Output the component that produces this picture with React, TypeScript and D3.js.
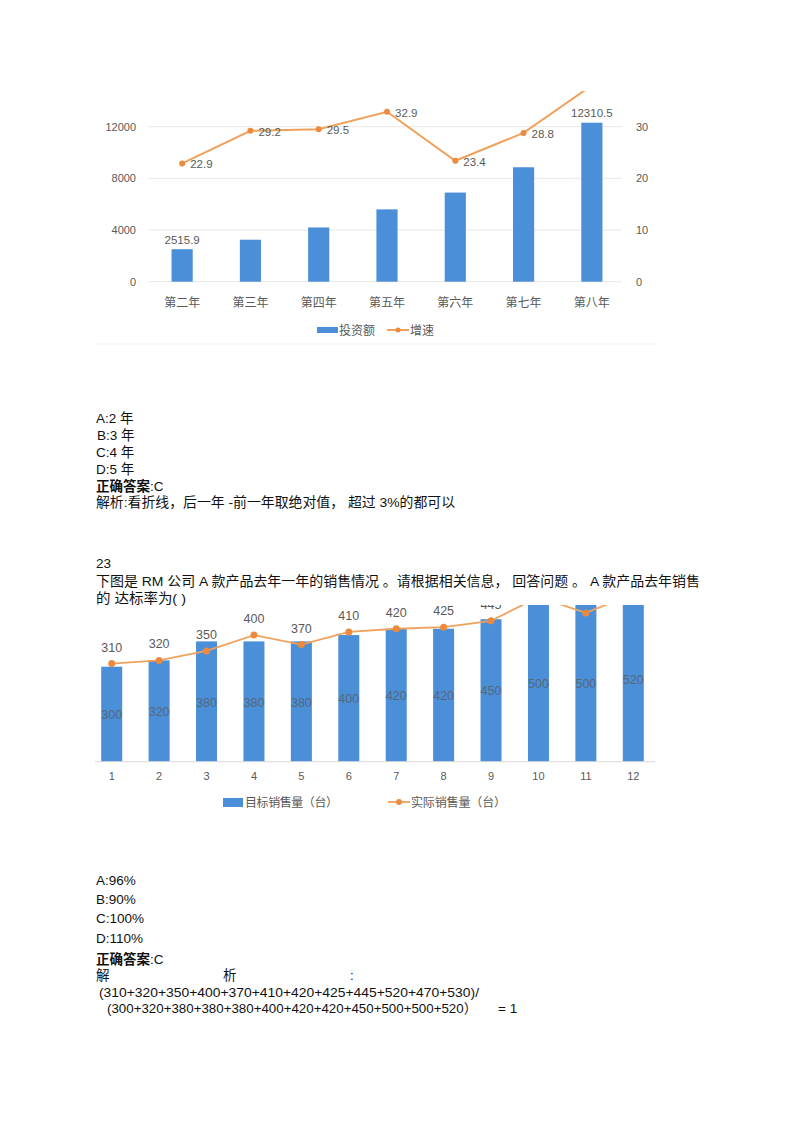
import * as React from "react";
import * as d3 from "d3";

// chart 1: investment and growth
const years = ["第二年", "第三年", "第四年", "第五年", "第六年", "第七年", "第八年"];
const investment = [2515.9, 3250, 4200, 5600, 6900, 8860, 12310.5];
const growth = [22.9, 29.2, 29.5, 32.9, 23.4, 28.8, 38];
const leftTicks = [0, 4000, 8000, 12000];
const rightTicks = [0, 10, 20, 30];

// chart 2: monthly sales
const months = ["1", "2", "3", "4", "5", "6", "7", "8", "9", "10", "11", "12"];
const target = [300, 320, 380, 380, 380, 400, 420, 420, 450, 500, 500, 520];
const actual = [310, 320, 350, 400, 370, 410, 420, 425, 445, 520, 470, 530];

const BLUE = "#4a8fd7";
const ORANGE = "#f0a25c";
const DOT = "#ec8a40";
const GRAY = "#595959";
const TXT = "'Liberation Sans', Arial, 'Noto Sans CJK SC', sans-serif";
const CJK = "'Noto Sans CJK SC', 'Liberation Sans', sans-serif";

const InvestChart = () => {
  const x = d3.scaleBand<string>().domain(years).range([148, 626]).paddingInner(0.69).paddingOuter(0.345);
  const yL = d3.scaleLinear().domain([0, 12000]).range([281.7, 126.7]);
  const yR = d3.scaleLinear().domain([0, 30]).range([281.7, 126.7]);
  const cx = (d: string) => (x(d) as number) + x.bandwidth() / 2;
  const line = d3.line<number>().x((_, i) => cx(years[i])).y(d => yR(d));
  // the picture is cut at the top: labels above the cut are not drawn
  const shown = growth.map((g, i) => i).filter(i => yR(growth[i]) > 100);
  return <g>
    <defs>
      <clipPath id="clip1"><rect x={90} y={91} width={575} height={260} /></clipPath>
    </defs>
    <g clipPath="url(#clip1)">
      {leftTicks.map(t => <line key={t} x1={148} x2={622} y1={yL(t)} y2={yL(t)} stroke="#e8e8e8" strokeWidth={1} />)}
      {investment.map((v, i) => <rect key={i} x={x(years[i])} y={yL(v)} width={x.bandwidth()} height={yL(0) - yL(v)} fill={BLUE} />)}
      <path d={line(growth) || ""} fill="none" stroke={ORANGE} strokeWidth={2} />
      {shown.map(i => <circle key={i} cx={cx(years[i])} cy={yR(growth[i])} r={3} fill={DOT} />)}
      {shown.map(i => <text key={i} x={cx(years[i]) + 8} y={yR(growth[i]) + 5} fontSize={11.5} fill={GRAY} fontFamily={TXT}>{growth[i]}</text>)}
      {[0, investment.length - 1].map(i => <text key={i} x={cx(years[i])} y={yL(investment[i]) - 5.5} textAnchor="middle" fontSize={11.5} fill={GRAY} fontFamily={TXT}>{investment[i]}</text>)}
    </g>
    {leftTicks.map(t => <text key={t} x={136} y={yL(t) + 4} textAnchor="end" fontSize={11} fill={GRAY} fontFamily={TXT}>{t}</text>)}
    {rightTicks.map(t => <text key={t} x={636} y={yR(t) + 4} fontSize={11} fill={GRAY} fontFamily={TXT}>{t}</text>)}
    {years.map(d => <text key={d} x={cx(d)} y={306.5} textAnchor="middle" fontSize={12} fill={GRAY} fontFamily={CJK}>{d}</text>)}
    <rect x={317} y={327} width={21} height={6} fill={BLUE} />
    <text x={339} y={334.5} fontSize={12} fill={GRAY} fontFamily={CJK}>投资额</text>
    <line x1={387} x2={409} y1={330} y2={330} stroke={ORANGE} strokeWidth={2} />
    <circle cx={398} cy={330} r={2.5} fill={DOT} />
    <text x={410} y={334.5} fontSize={12} fill={GRAY} fontFamily={CJK}>增速</text>
    <line x1={95} x2={658} y1={344} y2={344} stroke="#f2f2f2" strokeWidth={1} />
  </g>;
};

const SalesChart = () => {
  const x = d3.scaleBand<string>().domain(months).range([88, 657]).paddingInner(0.557).paddingOuter(0.2785);
  const y = d3.scaleLinear().domain([0, 500]).range([761.7, 603.4]);
  const cx = (d: string) => (x(d) as number) + x.bandwidth() / 2;
  const line = d3.line<number>().x((_, i) => cx(months[i])).y(d => y(d));
  // labels that fall above the cut edge of the picture are left out
  const shown = actual.map((v, i) => i).filter(i => y(actual[i]) - 12 > 602);
  return <g>
    <defs>
      <clipPath id="clip2"><rect x={88} y={605} width={575} height={225} /></clipPath>
    </defs>
    <g clipPath="url(#clip2)">
      {target.map((v, i) => <rect key={i} x={x(months[i])} y={y(v)} width={x.bandwidth()} height={y(0) - y(v)} fill={BLUE} />)}
      {target.map((v, i) => <text key={i} x={cx(months[i])} y={(y(v) + y(0)) / 2 + 5} textAnchor="middle" fontSize={12.5} fill="#56677c" fontFamily={TXT}>{v}</text>)}
      <path d={line(actual) || ""} fill="none" stroke={ORANGE} strokeWidth={1.8} />
      {actual.map((v, i) => <circle key={i} cx={cx(months[i])} cy={y(v)} r={3.5} fill={DOT} />)}
      {shown.map(i => <text key={i} x={cx(months[i])} y={y(actual[i]) - 12} textAnchor="middle" fontSize={12.5} fill={GRAY} fontFamily={TXT}>{actual[i]}</text>)}
    </g>
    <line x1={95} x2={655} y1={y(0)} y2={y(0)} stroke="#d9d9d9" strokeWidth={1} />
    {months.map(d => <text key={d} x={cx(d)} y={780} textAnchor="middle" fontSize={11} fill={GRAY} fontFamily={TXT}>{d}</text>)}
    <rect x={223} y={798} width={20} height={9} fill={BLUE} />
    <text x={245} y={806.5} fontSize={12} fill={GRAY} fontFamily={CJK} textLength={93}>目标销售量（台）</text>
    <line x1={388} x2={410} y1={802} y2={802} stroke={ORANGE} strokeWidth={1.8} />
    <circle cx={399} cy={802} r={3} fill={DOT} />
    <text x={411} y={806.5} fontSize={12} fill={GRAY} fontFamily={CJK} textLength={95}>实际销售量（台）</text>
  </g>;
};

const T = (p: { x: number; y: number; w?: number; children: React.ReactNode }) =>
  <text x={p.x} y={p.y} fontSize={13.5} fill="#111" fontFamily={TXT} textLength={p.w} lengthAdjust="spacingAndGlyphs">{p.children}</text>;

export default function App() {
  return <svg width={800} height={1131} style={{ position: "absolute", left: 0, top: 0, background: "#fff" }}>
    <rect width={800} height={1131} fill="#fff" />
    <InvestChart />
    <T x={96} y={423}>A:2 年</T>
    <T x={97} y={440}>B:3 年</T>
    <T x={96} y={457}>C:4 年</T>
    <T x={96} y={473.5}>D:5 年</T>
    <text x={96} y={490.5} fontSize={13.5} fill="#111" fontFamily={TXT}><tspan fontWeight="bold" fontFamily={CJK}>正确答案</tspan>:C</text>
    <T x={96} y={507} w={359}>解析:看折线，后一年 -前一年取绝对值， 超过 3%的都可以</T>
    <T x={96} y={568}>23</T>
    <T x={96} y={586} w={604}>下图是 RM 公司 A 款产品去年一年的销售情况 。请根据相关信息， 回答问题 。 A 款产品去年销售</T>
    <T x={96} y={602.5} w={90}>的 达标率为( )</T>
    <SalesChart />
    <T x={96} y={885}>A:96%</T>
    <T x={96} y={904}>B:90%</T>
    <T x={96} y={923}>C:100%</T>
    <T x={96} y={942.5}>D:110%</T>
    <text x={96} y={964} fontSize={13.5} fill="#111" fontFamily={TXT}><tspan fontWeight="bold" fontFamily={CJK}>正确答案</tspan>:C</text>
    <T x={96} y={980}>解</T>
    <T x={223} y={980}>析</T>
    <T x={350} y={980}>:</T>
    <T x={99} y={997} w={380}>(310+320+350+400+370+410+420+425+445+520+470+530)/</T>
    <T x={107} y={1012.5} w={370}>(300+320+380+380+380+400+420+420+450+500+500+520）</T>
    <T x={498} y={1012.5}>= 1</T>
  </svg>;
}
